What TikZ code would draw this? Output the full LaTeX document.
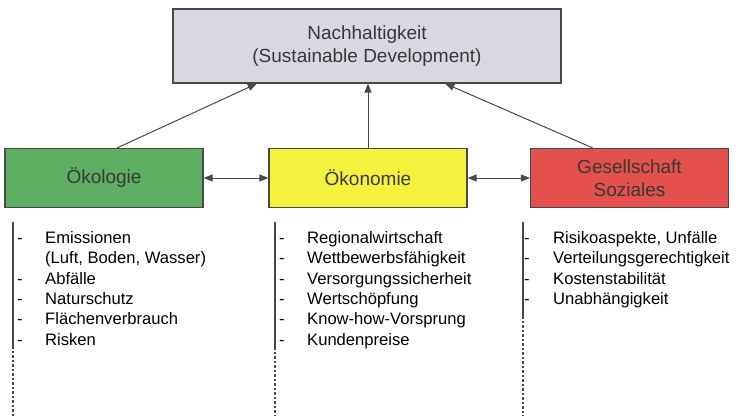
\documentclass[tikz,border=0pt]{standalone}
\usepackage{fontspec}
\setmainfont{Liberation Sans}
\usepackage{tikz}
\usetikzlibrary{arrows.meta,calc}
\usepackage{xcolor}
\definecolor{GoalGray}{HTML}{D8D8E3}
\definecolor{EcoGreen}{HTML}{5EAE63}
\definecolor{EconYellow}{HTML}{F3F33E}
\definecolor{SocRed}{HTML}{E4514D}
\definecolor{EdgeGray}{HTML}{484848}
\definecolor{LabelGray}{HTML}{383838}

\begin{document}
\begin{tikzpicture}[x=1pt,y=-1pt,
    pillar/.style={draw=EdgeGray,line width=1.2pt,minimum width=198pt,minimum height=59pt,
      font=\fontsize{19}{22.7}\selectfont,text=LabelGray,align=center},
    link/.style={draw=EdgeGray,line width=1pt,-{Triangle[length=9pt,width=7pt]}},
    twolink/.style={link,{Triangle[length=9pt,width=7pt]}-{Triangle[length=9pt,width=7pt]}},
    item/.style={anchor=base west,inner sep=0pt,font=\fontsize{16.6}{19}\selectfont}]
    \useasboundingbox (0,0) rectangle (738,416);
    \node[pillar,fill=GoalGray,minimum width=388pt,minimum height=74pt] (goal) at (367,46)
     {Nachhaltigkeit\\(Sustainable Development)};
    \node[pillar,fill=EcoGreen] (oeko) at (104,178) {Ökologie};
    \node[pillar,fill=EconYellow] (wirt) at (368,178) {Ökonomie};
    \node[pillar,fill=SocRed] (sozi) at (629.5,178) {Gesellschaft\\Soziales};
    \draw[link] ($(oeko.north west)!0.566!(oeko.north east)$) -- ($(goal.south west)!0.217!(goal.south east)$);
    \draw[link] (wirt.north) -- (wirt.north |- goal.south);
    \draw[link] ($(sozi.north west)!0.315!(sozi.north east)$) -- ($(goal.south west)!0.701!(goal.south east)$);
    \draw[twolink] (oeko) -- (wirt);
    \draw[twolink] (wirt) -- (sozi);
    \foreach \x/\y in {13/346,275/347,523/316} {
     \draw[EdgeGray,line width=1.2pt] (\x,222) -- (\x,\y);
     \draw[EdgeGray,line width=1.1pt,dash pattern=on 2.5pt off 2pt] (\x,\y) -- (\x,416);
    }
    \foreach \i/\entry in {0/Emissionen,1/{(Luft, Boden, Wasser)},2/Abfälle,3/Naturschutz,4/Flächenverbrauch,5/Risken}
     \node[item] (oeko-\i) at (45,243.5+20.3*\i) {\entry};
    \foreach \i in {0,2,3,4,5}
     \node[item] (oeko-d\i) at (17,243.5+20.3*\i) {-};
    \foreach \i/\entry in {0/Regionalwirtschaft,1/Wettbewerbsfähigkeit,2/Versorgungssicherheit,3/Wertschöpfung,4/Know-how-Vorsprung,5/Kundenpreise} {
     \node[item] (wirt-\i) at (307,243.5+20.3*\i) {\entry};
     \node[item] (wirt-d\i) at (279,243.5+20.3*\i) {-};
    }
    \foreach \i/\entry in {0/{Risikoaspekte, Unfälle},1/Verteilungsgerechtigkeit,2/Kostenstabilität,3/Unabhängigkeit} {
     \node[item] (sozi-\i) at (553,243.5+20.3*\i) {\entry};
     \node[item] (sozi-d\i) at (524,243.5+20.3*\i) {-};
    }
   \end{tikzpicture}
\end{document}
